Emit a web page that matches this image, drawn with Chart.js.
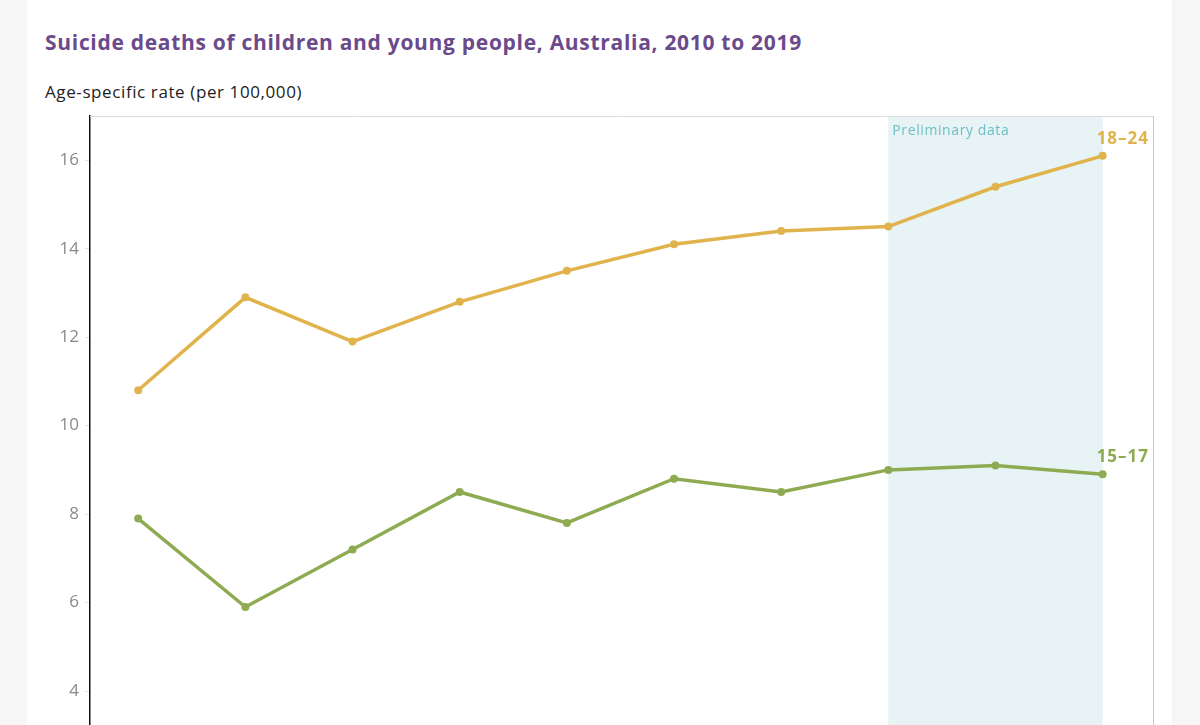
<!DOCTYPE html>
<html><head><meta charset="utf-8">
<script src="https://cdn.jsdelivr.net/npm/chart.js@4/dist/chart.umd.min.js"></script>
<style>
html,body{margin:0;padding:0;width:1200px;height:725px;overflow:hidden;background:#f7f6f7;font-family:"Open Sans",sans-serif;}
#panel{position:absolute;left:27px;top:0;width:1145px;height:725px;background:#fff;}
#title{position:absolute;left:45px;top:28px;font-size:21px;font-weight:700;color:#6a4a8b;white-space:nowrap;letter-spacing:0.7px;}
#ylab{position:absolute;left:45px;top:80px;font-size:17px;color:#222;white-space:nowrap;letter-spacing:0.6px;}
#wrap{position:absolute;left:0;top:0;width:1200px;height:900px;}
</style></head>
<body>
<div id="panel"></div>
<div id="title">Suicide deaths of children and young people, Australia, 2010 to 2019</div>
<div id="ylab">Age-specific rate (per 100,000)</div>
<div id="wrap"><canvas id="c"></canvas></div>
<script>
const years = [2010,2011,2012,2013,2014,2015,2016,2017,2018,2019];
const rate18to24 = [10.8,12.9,11.9,12.8,13.5,14.1,14.4,14.5,15.4,16.1];
const rate15to17 = [7.9,5.9,7.2,8.5,7.8,8.8,8.5,9.0,9.1,8.9];
const seriesNames = ['18–24','15–17'];
const yTicks = [4,6,8,10,12,14,16];
const prelimStart = 2017, prelimEnd = 2019;
const prelimLabel = 'Preliminary data';

const gold = '#e1b34c', green = '#8fab52';

const decor = {
  id:'decor',
  beforeDatasetsDraw(chart){
    const {ctx, chartArea:a, scales:{x,y}} = chart;
    ctx.save();
    const x0 = x.getPixelForValue(prelimStart), x1 = x.getPixelForValue(prelimEnd);
    ctx.fillStyle = '#e7f3f5';
    ctx.fillRect(x0, a.top, x1-x0, a.bottom-a.top);
    ctx.font = '14px "Open Sans", sans-serif';
    ctx.letterSpacing = '0.6px';
    ctx.fillStyle = '#6cbfc8';
    ctx.textBaseline = 'middle';
    ctx.fillText(prelimLabel, x0+4, a.top+15);
    ctx.strokeStyle = '#dcdcdc'; ctx.lineWidth = 1;
    ctx.beginPath(); ctx.moveTo(a.left, a.top+0.5); ctx.lineTo(a.right, a.top+0.5); ctx.stroke();
    ctx.strokeStyle = '#c8c8c8';
    ctx.beginPath(); ctx.moveTo(a.right+0.5, a.top); ctx.lineTo(a.right+0.5, a.bottom); ctx.stroke();
    ctx.restore();
  },
  afterDatasetsDraw(chart){
    const {ctx, scales:{x,y}} = chart;
    ctx.save();
    ctx.font = 'bold 17px "Open Sans", sans-serif';
    ctx.letterSpacing = '1px';
    ctx.textAlign = 'left'; ctx.textBaseline = 'middle';
    const last = years.length-1;
    [[rate18to24,gold,seriesNames[0]],[rate15to17,green,seriesNames[1]]].forEach(([d,c,n])=>{
      ctx.fillStyle = c;
      ctx.fillText(n, x.getPixelForValue(years[last])-6, y.getPixelForValue(d[last])-17);
    });
    ctx.restore();
  }
};

new Chart(document.getElementById('c'), {
  type:'line',
  data:{
    datasets:[
      {label:seriesNames[0], data:years.map((yr,i)=>({x:yr,y:rate18to24[i]})), borderColor:gold, backgroundColor:gold, borderWidth:3.5, pointRadius:4, pointBorderWidth:0},
      {label:seriesNames[1], data:years.map((yr,i)=>({x:yr,y:rate15to17[i]})), borderColor:green, backgroundColor:green, borderWidth:3.5, pointRadius:4, pointBorderWidth:0}
    ]
  },
  options:{
    responsive:true, maintainAspectRatio:false, animation:false,
    layout:{padding:{left:0,top:116,right:47,bottom:32}},
    plugins:{legend:{display:false}, tooltip:{enabled:false}},
    scales:{
      x:{type:'linear', min:2009.55, max:2019.47, display:false},
      y:{min:0, max:17,
         afterFit(s){ s.width = 90; },
         afterBuildTicks(s){ s.ticks = yTicks.map(v=>({value:v})); },
         ticks:{color:'#8a8a8a', font:{size:17, family:'"Open Sans", sans-serif'}, padding:6},
         grid:{drawOnChartArea:false, tickLength:5, color:'#e2e2e2'},
         border:{color:'#111', width:1.5}
      }
    }
  },
  plugins:[decor]
});
</script>
</body></html>
